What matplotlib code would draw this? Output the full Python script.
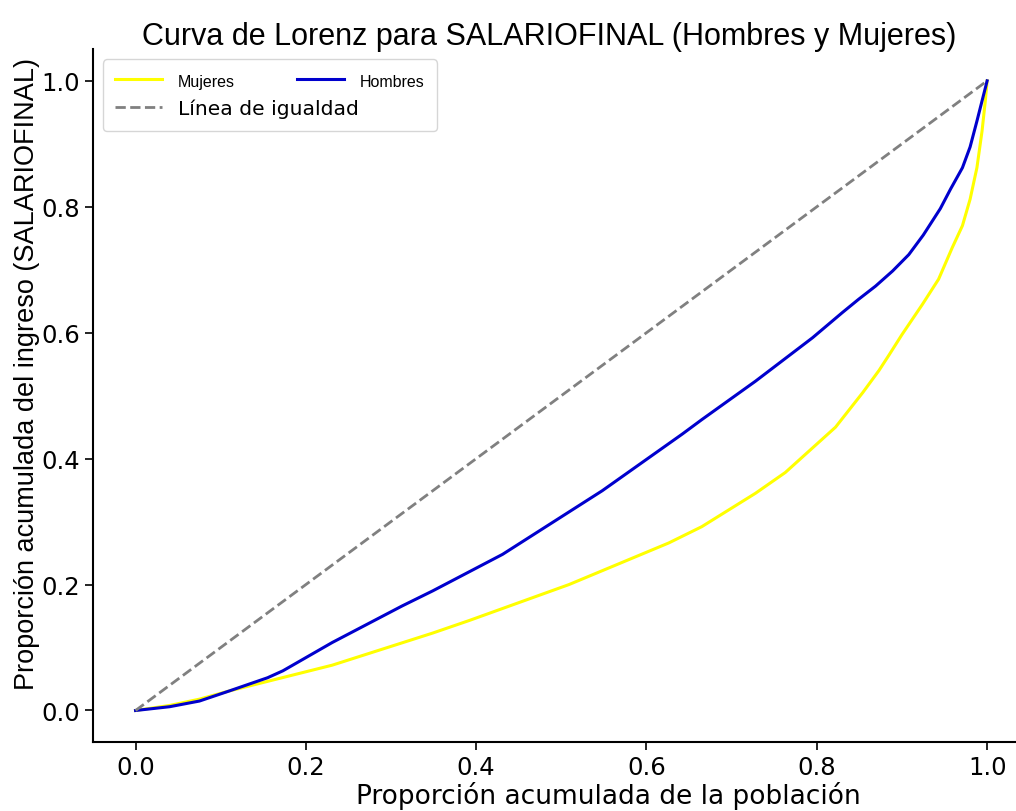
import numpy as np
import matplotlib
matplotlib.use("Agg")
import matplotlib.pyplot as plt
from matplotlib.font_manager import FontProperties

# Lorenz curve points
x_hombres = [0, 0.04, 0.075, 0.11, 0.155, 0.173, 0.231, 0.313, 0.349, 0.431,
             0.548, 0.642, 0.665, 0.728, 0.795, 0.830, 0.849, 0.869, 0.889,
             0.908, 0.925, 0.945, 0.957, 0.971, 0.980, 0.988, 0.994, 1.0]
y_hombres = [0, 0.006, 0.015, 0.031, 0.052, 0.063, 0.108, 0.166, 0.19, 0.248,
             0.349, 0.439, 0.462, 0.523, 0.592, 0.632, 0.653, 0.674, 0.698,
             0.724, 0.755, 0.797, 0.828, 0.862, 0.895, 0.936, 0.968, 1.0]

x_mujeres = [0, 0.04, 0.075, 0.11, 0.231, 0.349, 0.392, 0.509, 0.626, 0.665,
             0.728, 0.763, 0.822, 0.854, 0.873, 0.885, 0.900, 0.924, 0.943,
             0.959, 0.971, 0.980, 0.988, 0.994, 0.998, 1.0]
y_mujeres = [0, 0.008, 0.018, 0.031, 0.072, 0.123, 0.143, 0.200, 0.266, 0.292,
             0.345, 0.378, 0.45, 0.505, 0.54, 0.565, 0.597, 0.645, 0.685,
             0.735, 0.770, 0.812, 0.862, 0.920, 0.970, 1.0]

igualdad = [0, 1]

titulo = "Curva de Lorenz para SALARIOFINAL (Hombres y Mujeres)"
xlab = "Proporción acumulada de la población"
ylab = "Proporción acumulada del ingreso (SALARIOFINAL)"

narrow = FontProperties(family=["Liberation Sans Narrow", "Liberation Sans", "DejaVu Sans"], size=22)
arial = FontProperties(family=["Liberation Sans", "DejaVu Sans"], size=19.5)
arial_small = FontProperties(family=["Liberation Sans", "DejaVu Sans"], size=11.5)

fig = plt.figure(figsize=(10.16, 8.12), dpi=100)
ax = fig.add_axes([0.0915, 0.085, 0.922, 0.853])

l_muj, = ax.plot(x_mujeres, y_mujeres, color="yellow", lw=2.2, label="Mujeres")
l_hom, = ax.plot(x_hombres, y_hombres, color="mediumblue", lw=2.2, label="Hombres")
l_ig, = ax.plot(igualdad, igualdad, color="gray", ls="--", lw=2, label="Línea de igualdad")

ax.set_xlim(-0.05, 1.05)
ax.set_ylim(-0.05, 1.05)
ax.set_xticks([0.0, 0.2, 0.4, 0.6, 0.8, 1.0])
ax.set_yticks([0.0, 0.2, 0.4, 0.6, 0.8, 1.0])
ax.tick_params(direction="out", length=6, width=1.2, labelsize=17.5)

for s in ["top", "right"]:
    ax.spines[s].set_visible(False)
for s in ["left", "bottom"]:
    ax.spines[s].set_linewidth(1.5)

ax.set_xlabel(xlab, fontsize=19, labelpad=1)
ax.xaxis.label.set_x(0.55)
ax.set_ylabel(ylab, fontproperties=arial)
ax.yaxis.set_label_coords(-0.057, 0.532)
fig.text(0.541, 0.954, titulo, fontproperties=narrow, ha="center", va="center")

# legend: two columns, Hombres on the right of the first row
leg = ax.legend([l_muj, l_ig, l_hom], ["Mujeres", "Línea de igualdad", "Hombres"],
                ncol=2, loc="upper left", fontsize=14.6, columnspacing=-3.06,
                handlelength=2.3, handletextpad=0.8, borderpad=0.6)
texts = leg.get_texts()
texts[0].set_fontproperties(arial_small)
texts[2].set_fontproperties(arial_small)

fig.savefig("out.png", dpi=100)
